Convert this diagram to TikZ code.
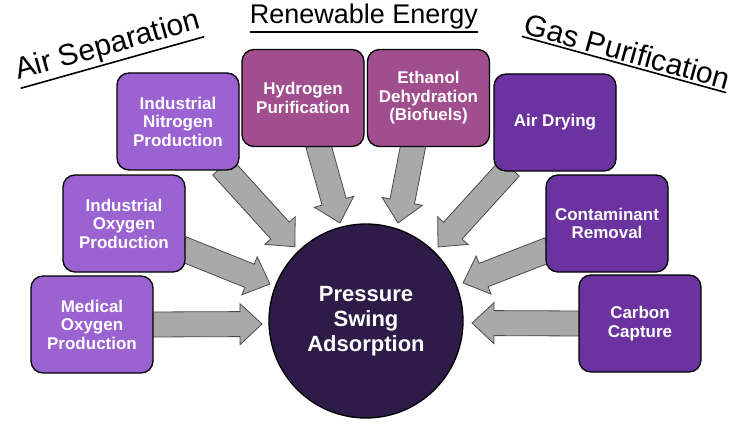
\documentclass[tikz,border=0pt]{standalone}
\usepackage{fontspec}
\setmainfont{Liberation Sans}
\usetikzlibrary{backgrounds,calc}
\definecolor{lightpurp}{HTML}{9B62D2}
\definecolor{mauve}{HTML}{A04E8E}
\definecolor{darkpurp}{HTML}{6A33A0}
\definecolor{core}{HTML}{2E1B48}
\definecolor{arrowgray}{HTML}{A9A9A9}
\definecolor{arrowedge}{HTML}{4A4A4A}
\newcommand\blockarr[2]{%
  \path (#1); \pgfgetlastxy{\bax}{\bay}%
  \path (#2); \pgfgetlastxy{\bbx}{\bby}%
  \pgfmathsetmacro\baang{atan2(\bby-\bay,\bbx-\bax)}%
  \pgfmathsetmacro\balen{veclen(\bbx-\bax,\bby-\bay)}%
  \draw[blockarrow,shift={(\bax,\bay)},rotate=\baang]
    (0,-12.5) -- (\balen-22,-12.5) -- (\balen-22,-20.5) -- (\balen,0)
    -- (\balen-22,20.5) -- (\balen-22,12.5) -- (0,12.5) -- cycle;}
\tikzset{
  box/.style={draw=black, line width=1.3pt, rounded corners=12pt,
    minimum width=122pt, minimum height=97pt, text=white, align=center,
    font=\fontsize{17}{18.5}\selectfont\bfseries, inner sep=2pt},
  blockarrow/.style={fill=arrowgray, draw=arrowedge, line width=0.8pt, line join=miter},
  title/.style={font=\fontsize{30}{32}\selectfont, inner xsep=0pt, inner ysep=2.5pt, anchor=south},
  uline/.style={line width=1.6pt}
}
\begin{document}
\begin{tikzpicture}[x=1pt,y=-1pt]
\useasboundingbox (0,0) rectangle (739,425);
% boxes
\node[box, fill=lightpurp] (med) at (92,324.5) {Medical\\Oxygen\\Production};
\node[box, fill=lightpurp] (indox) at (124,223.5) {Industrial\\Oxygen\\Production};
\node[box, fill=lightpurp] (nitro) at (178,121.5) {Industrial\\Nitrogen\\Production};
\node[box, fill=mauve] (hydro) at (303,98) {Hydrogen\\Purification};
\node[box, fill=mauve] (eth) at (428.5,98) {Ethanol\\Dehydration\\(Biofuels)};
\node[box, fill=darkpurp] (air) at (555,122.5) {Air Drying};
\node[box, fill=darkpurp] (cont) at (607,223.5) {Contaminant\\Removal};
\node[box, fill=darkpurp] (carb) at (640,323.5) {Carbon\\Capture};
% centre
\node[circle, fill=core, draw=black, line width=1.3pt, minimum size=194pt,
  text=white, align=center, font=\fontsize{22}{25}\selectfont\bfseries] (psa) at (366,321)
  {Pressure\\Swing\\Adsorption};
% titles
\node[title, rotate=15.7] (tair) at (112.5,62.5) {Air Separation};
\draw[uline] (tair.south west) -- (tair.south east);
\node[title, font=\fontsize{27}{29}\selectfont] (tren) at (364,32) {Renewable Energy};
\draw[uline] (tren.south west) -- (tren.south east);
\node[title, rotate=-15.4] (tgas) at (624,64.5) {Gas Purification};
\draw[uline] (tgas.south west) -- (tgas.south east);
% arrow end points
\coordinate (s1) at ($(med.east)+(-4,0)$);
\coordinate (s2) at ($(indox.east)+(-4,25)$);
\coordinate (s3) at ($(nitro.south)+(44,-4)$);
\coordinate (s4) at ($(hydro.south)+(15,-3)$);
\coordinate (s5) at ($(eth.south)+(-15,-3)$);
\coordinate (s6) at ($(air.south)+(-45,-4)$);
\coordinate (s7) at ($(cont.west)+(4,26)$);
\coordinate (s8) at ($(carb.west)+(4,0)$);
\coordinate (e1) at ($(psa.center)+(-104,3)$);
\coordinate (e2) at ($(psa.center)+(-96,-37)$);
\coordinate (e3) at ($(psa.center)+(-71,-74)$);
\coordinate (e4) at ($(psa.center)+(-26,-98)$);
\coordinate (e5) at ($(psa.center)+(32,-98)$);
\coordinate (e6) at ($(psa.center)+(72,-74)$);
\coordinate (e7) at ($(psa.center)+(97,-38)$);
\coordinate (e8) at ($(psa.center)+(106,2)$);
\begin{pgfonlayer}{background}
\blockarr{s1}{e1}
\blockarr{s2}{e2}
\blockarr{s3}{e3}
\blockarr{s4}{e4}
\blockarr{s5}{e5}
\blockarr{s6}{e6}
\blockarr{s7}{e7}
\blockarr{s8}{e8}
\end{pgfonlayer}
\end{tikzpicture}
\end{document}
